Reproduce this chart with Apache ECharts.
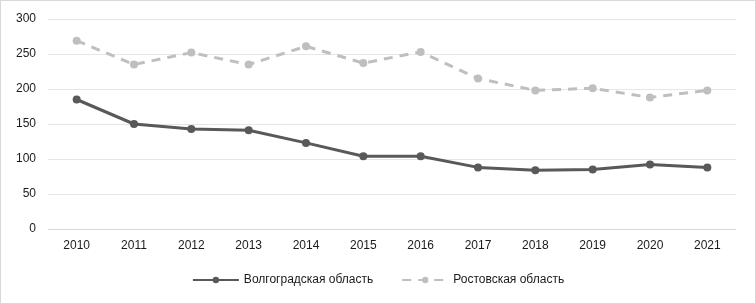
<!DOCTYPE html>
<html>
<head>
<meta charset="utf-8">
<script src="https://cdn.jsdelivr.net/npm/echarts@6/dist/echarts.min.js"></script>
<style>
  html, body { margin: 0; padding: 0; background: #fff; }
  #chart { width: 754px; height: 302px; border: 1px solid #d9d9d9; }
</style>
</head>
<body>
<div id="chart"></div>
<script>
const years = ['2010', '2011', '2012', '2013', '2014', '2015', '2016', '2017', '2018', '2019', '2020', '2021']
const volgograd = [185, 150, 143, 141, 123, 104, 104, 88, 84, 85, 92, 88]
const rostov = [269, 235, 252, 235, 261, 237, 253, 215, 198, 201, 188, 198]
const names = ['Волгоградская область', 'Ростовская область']

const font = 'Liberation Sans, Arial, sans-serif'
const chart = echarts.init(document.getElementById('chart'))

chart.setOption({
  animation: false,
  textStyle: { fontFamily: font },
  grid: { left: 47, right: 19, top: 18, bottom: 74 },
  legend: {
    bottom: 12,
    left: 'center',
    itemWidth: 46,
    itemHeight: 8,
    itemGap: 28,
    textStyle: { color: '#1a1a1a', fontSize: 12, fontFamily: font },
    data: names
  },
  xAxis: {
    type: 'category',
    data: years,
    boundaryGap: true,
    axisLine: { lineStyle: { color: '#d9d9d9', width: 1 } },
    axisTick: { show: false },
    axisLabel: { color: '#1a1a1a', fontSize: 12, margin: 11 }
  },
  yAxis: {
    type: 'value',
    min: 0,
    max: 300,
    interval: 50,
    axisLine: { show: false },
    axisTick: { show: false },
    splitLine: { lineStyle: { color: '#e6e6e6', width: 1 } },
    axisLabel: { color: '#1a1a1a', fontSize: 12, margin: 12 }
  },
  series: [
    {
      name: names[0],
      type: 'line',
      data: volgograd,
      symbol: 'circle',
      symbolSize: 8,
      lineStyle: { color: '#595959', width: 3 },
      itemStyle: { color: '#595959' }
    },
    {
      name: names[1],
      type: 'line',
      data: rostov,
      symbol: 'circle',
      symbolSize: 8,
      lineStyle: { color: '#bfbfbf', width: 3, type: [9, 7] },
      itemStyle: { color: '#bfbfbf' }
    }
  ]
})
</script>
</body>
</html>
